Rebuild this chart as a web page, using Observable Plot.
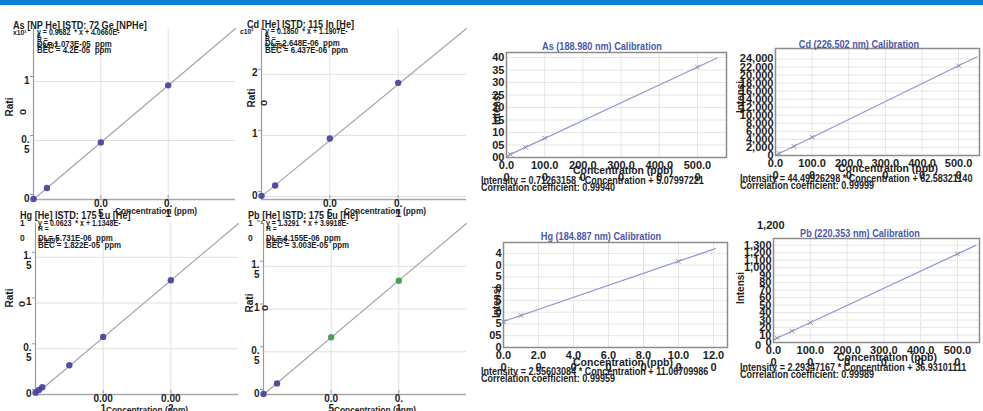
<!DOCTYPE html>
<html><head><meta charset="utf-8">
<script src="https://cdn.jsdelivr.net/npm/d3@7"></script>
<script src="https://cdn.jsdelivr.net/npm/@observablehq/plot@0.6"></script>
<style>
html,body{margin:0;padding:0;background:#fff;}
#root{position:relative;width:983px;height:411px;overflow:hidden;background:#fff;font-family:"Liberation Sans Narrow","Liberation Sans",sans-serif;font-weight:bold;color:#1e1e1e;}
.t{position:absolute;white-space:pre;line-height:1;}
#bar{position:absolute;left:0;top:0;width:983px;height:5px;background:#0a80d2;}
</style></head><body><div id="root"><div id="bar"></div></div>
<script>
// ---------- ICP-MS data (ratio vs concentration, ppm) ----------
const asMsConc = [0, 0.01, 0.05, 0.1];
const asMsRatio = [0.004, 0.097, 0.484, 0.968];
const asMsFitX = [0, 0.15], asMsFitY = [0, 1.45];
const asMsXTicks = [0.05, 0.1], asMsXLabels = ["0.0\n5", "0.\n1"];
const asMsYTicks = [0, 0.5, 1], asMsYLabels = ["0", "0.\n5", "1"];

const cdMsConc = [0, 0.01, 0.05, 0.1];
const cdMsRatio = [0.01, 0.18, 0.95, 1.86];
const cdMsFitX = [0, 0.15], cdMsFitY = [0, 2.75];
const cdMsXTicks = [0.05, 0.1], cdMsXLabels = ["0.0\n5", "0.\n1"];
const cdMsYTicks = [0, 1, 2], cdMsYLabels = ["0", "1", "2"];

const hgMsConc = [0, 0.00005, 0.0001, 0.0005, 0.001, 0.002];
const hgMsRatio = [0.02, 0.05, 0.08, 0.32, 0.63, 1.25];
const hgMsFitX = [0, 0.003], hgMsFitY = [0, 1.87];
const hgMsXTicks = [0.001, 0.002], hgMsXLabels = ["0.00\n1", "0.00\n2"];
const hgMsYTicks = [0, 0.5, 1, 1.5], hgMsYLabels = ["0", "0.\n5", "1", "1.\n5"];

const pbMsConc = [0, 0.01, 0.05, 0.1];
const pbMsRatio = [0.005, 0.13, 0.67, 1.33];
const pbMsColors = ["#3f3f9c", "#3f3f9c", "#3a9a48", "#3a9a48"];
const pbMsFitX = [0, 0.15], pbMsFitY = [0, 2.0];
const pbMsXTicks = [0.05, 0.1], pbMsXLabels = ["0.0\n5", "0.\n1"];
const pbMsYTicks = [0, 0.5, 1, 1.5], pbMsYLabels = ["0", "0.\n5", "1", "1.\n5"];

// ---------- ICP-OES data (intensity vs concentration, ppb) ----------
const asOesConc = [10, 50, 100, 500];
const asOesInt = [13, 41, 77, 362];
const asOesFitX = [0, 550], asOesFitY = [5.1, 397];
const asOesXTicks = [0, 100, 200, 300, 400, 500];
const asOesYTicks = [0, 50, 100, 150, 200, 250, 300, 350, 400];
const asOesYLabels = ["00", "05", "10", "15", "20", "25", "30", "35", "40"];

const cdOesConc = [10, 50, 100, 500];
const cdOesInt = [500, 2300, 4550, 22300];
const cdOesFitX = [0, 550], cdOesFitY = [63, 24540];
const cdOesXTicks = [0, 100, 200, 300, 400, 500];
const cdOesYTicks = [0, 2000, 4000, 6000, 8000, 10000, 12000, 14000, 16000, 18000, 20000, 22000, 24000];
const cdOesYLabels = ["0", "2,000", "4,000", "6,000", "8,000", "10,000", "12,000", "14,000", "16,000", "18,000", "20,000", "22,000", "24,000"];

const hgOesConc = [0, 1, 10];
const hgOesInt = [11, 13.6, 36.6];
const hgOesFitX = [0, 12.1], hgOesFitY = [11.07, 42];
const hgOesXTicks = [0, 2, 4, 6, 8, 10, 12];
const hgOesYTicks = [0, 5, 10, 15, 20, 25, 30, 35, 40];
const hgOesYLabels = ["0", "05", "5", "0", "5", "0", "5", "0", "4"];

const pbOesConc = [10, 50, 100, 500];
const pbOesInt = [60, 152, 266, 1184];
const pbOesFitX = [0, 550], pbOesFitY = [37, 1298];
const pbOesXTicks = [0, 100, 200, 300, 400, 500];
const pbOesYTicks = [0, 100, 200, 300, 400, 500, 600, 700, 800, 900, 1000, 1100, 1200, 1300];
const pbOesYLabels = ["0", "10", "20", "30", "40", "50", "60", "70", "80", "90", "1,000", "1,100", "1,200", "1,300"];

// ---------- helpers ----------
const root = document.getElementById("root");
const zip = (xs, ys, extra) => xs.map((x, i) => ({x, y: ys[i], ...(extra ? {c: extra[i]} : {})}));
const fmt = (ticks, labels) => d => labels[ticks.indexOf(d)] ?? "";

function panel({L, R, T, B, xDomain, yDomain, marks, fontSize}) {
  const m = {l: 45, r: 12, t: 10, b: 30};
  const p = Plot.plot({
    width: (R - L) + m.l + m.r,
    height: (B - T) + m.t + m.b,
    marginLeft: m.l, marginRight: m.r, marginTop: m.t, marginBottom: m.b,
    x: {domain: xDomain},
    y: {domain: yDomain},
    style: `font-family:'Liberation Sans Narrow','Liberation Sans',sans-serif;font-size:${fontSize}px;font-weight:bold;background:transparent;overflow:visible;color:#1e1e1e;`,
    marks
  });
  p.style.position = "absolute";
  p.style.left = (L - m.l) + "px";
  p.style.top = (T - m.t) + "px";
  root.appendChild(p);
}

function msPanel(c) {
  panel({
    L: c.L, R: c.R, T: c.T, B: c.B, xDomain: c.xDomain, yDomain: c.yDomain, fontSize: 10,
    marks: [
      Plot.gridX(c.xTicks, {stroke: "#e0e0e0", strokeOpacity: 1}),
      Plot.gridY(c.yTicks, {stroke: "#e0e0e0", strokeOpacity: 1}),
      Plot.ruleX([c.xDomain[0]], {stroke: "#9a9a9a", strokeWidth: 1.2}),
      Plot.ruleY([c.yDomain[0]], {stroke: "#a8a8a8", strokeWidth: 1.6}),
      Plot.axisX(c.xTicks, {tickFormat: fmt(c.xTicks, c.xLabels), tickSize: 3, tickPadding: 1, label: null, stroke: "#999", lineHeight: 1, dy: -4}),
      Plot.axisY(c.yTicks, {tickFormat: fmt(c.yTicks, c.yLabels), tickSize: 3, tickPadding: 1, label: null, stroke: "#999", lineAnchor: "top", dy: -5, lineHeight: 1}),
      Plot.line(zip(c.fitX, c.fitY), {x: "x", y: "y", stroke: "#a3a3a3", strokeWidth: 1.1}),
      Plot.dot(zip(c.conc, c.ratio, c.colors), {x: "x", y: "y", r: 3.2, fill: c.colors ? "c" : "#3f3f9c", fillOpacity: 0.9})
    ]
  });
}

function oesPanel(c) {
  panel({
    L: c.L, R: c.R, T: c.T, B: c.B, xDomain: c.xDomain, yDomain: c.yDomain, fontSize: 11,
    marks: [
      Plot.gridX(c.xTicks, {stroke: "#e6e6e6", strokeOpacity: 1}),
      Plot.gridY(c.yTicks, {stroke: "#e6e6e6", strokeOpacity: 1}),
      Plot.axisX(c.xTicks, {tickFormat: d => d.toFixed(1) + "\n0", tickSize: 0, tickPadding: 3, label: null, lineHeight: 1.1}),
      Plot.axisY(c.yTicks, {tickFormat: fmt(c.yTicks, c.yLabels), tickSize: 0, tickPadding: 2, label: null}),
      Plot.line(zip(c.fitX, c.fitY), {x: "x", y: "y", stroke: "#8f9bd8", strokeWidth: 1.3}),
      Plot.dot(zip(c.conc, c.int), {x: "x", y: "y", symbol: "times", r: 2.2, stroke: "#8b8b9b", strokeWidth: 1}),
      Plot.frame({stroke: "#8c8c8c", strokeWidth: 1.5})
    ]
  });
}

function txt(s, x, y, {size = 9, anchor = "start", rotate = false, color = "#1e1e1e", sx = 1} = {}) {
  const d = document.createElement("div");
  d.className = "t";
  d.textContent = s;
  d.style.fontSize = size + "px";
  d.style.color = color;
  d.style.left = x + "px";
  d.style.top = y + "px";
  if (rotate) {
    d.style.transform = "translate(-50%,-50%) rotate(-90deg)";
  } else if (anchor === "middle") {
    d.style.transformOrigin = "50% 50%";
    d.style.transform = `translate(-50%,-50%) scaleX(${sx})`;
  } else {
    d.style.transformOrigin = "0 50%";
    d.style.transform = `translate(0,-50%) scaleX(${sx})`;
  }
  root.appendChild(d);
}

// ---------- ICP-MS panels ----------
msPanel({L: 33, R: 235, T: 28, B: 199, xDomain: [0, 0.15], yDomain: [0, 1.45],
  xTicks: asMsXTicks, xLabels: asMsXLabels, yTicks: asMsYTicks, yLabels: asMsYLabels,
  conc: asMsConc, ratio: asMsRatio, fitX: asMsFitX, fitY: asMsFitY});
msPanel({L: 261, R: 466, T: 28, B: 199, xDomain: [0, 0.15], yDomain: [-0.05, 2.75],
  xTicks: cdMsXTicks, xLabels: cdMsXLabels, yTicks: cdMsYTicks, yLabels: cdMsYLabels,
  conc: cdMsConc, ratio: cdMsRatio, fitX: cdMsFitX, fitY: cdMsFitY});
msPanel({L: 35, R: 238, T: 223, B: 394, xDomain: [0, 0.003], yDomain: [0, 1.87],
  xTicks: hgMsXTicks, xLabels: hgMsXLabels, yTicks: hgMsYTicks, yLabels: hgMsYLabels,
  conc: hgMsConc, ratio: hgMsRatio, fitX: hgMsFitX, fitY: hgMsFitY});
msPanel({L: 263, R: 466, T: 223, B: 394, xDomain: [0, 0.15], yDomain: [0, 2.0],
  xTicks: pbMsXTicks, xLabels: pbMsXLabels, yTicks: pbMsYTicks, yLabels: pbMsYLabels,
  conc: pbMsConc, ratio: pbMsRatio, colors: pbMsColors, fitX: pbMsFitX, fitY: pbMsFitY});

// ---------- ICP-OES panels ----------
oesPanel({L: 506, R: 726, T: 52, B: 157, xDomain: [0, 576], yDomain: [0, 420],
  xTicks: asOesXTicks, yTicks: asOesYTicks, yLabels: asOesYLabels,
  conc: asOesConc, int: asOesInt, fitX: asOesFitX, fitY: asOesFitY});
oesPanel({L: 775, R: 979, T: 48, B: 155, xDomain: [0, 557], yDomain: [0, 26600],
  xTicks: cdOesXTicks, yTicks: cdOesYTicks, yLabels: cdOesYLabels,
  conc: cdOesConc, int: cdOesInt, fitX: cdOesFitX, fitY: cdOesFitY});
oesPanel({L: 503, R: 727, T: 242, B: 347, xDomain: [0, 12.8], yDomain: [0, 44.6],
  xTicks: hgOesXTicks, yTicks: hgOesYTicks, yLabels: hgOesYLabels,
  conc: hgOesConc, int: hgOesInt, fitX: hgOesFitX, fitY: hgOesFitY});
oesPanel({L: 773, R: 979, T: 238, B: 342, xDomain: [0, 560], yDomain: [0, 1390],
  xTicks: pbOesXTicks, yTicks: pbOesYTicks, yLabels: pbOesYLabels,
  conc: pbOesConc, int: pbOesInt, fitX: pbOesFitX, fitY: pbOesFitY});

// ---------- text: ICP-MS ----------
const T1 = {size: 11, sx: 0.83}, EQ = {size: 9.5, sx: 0.74}, DL = {size: 9.5, sx: 0.83}, SM = {size: 8, sx: 0.85};
const CX = {size: 9.5, anchor: "middle", sx: 0.88};
txt("As [NP He] ISTD: 72 Ge [NPHe]", 13, 25, T1);
txt("x10\u00B9", 13, 33, {size: 8, sx: 0.85});
txt("y = 0.9682  * x + 4.0660E-", 37, 32, EQ);
txt("6", 37, 36, SM);
txt("R =", 37, 39.5, SM);
txt("DL= 1.073E-05  ppm", 37, 43.5, DL);
txt("0.9997", 37, 46, SM);
txt("BEC = 4.2E-05  ppm", 37, 50, DL);
txt("Rati", 10, 107, {size: 10, rotate: true});
txt("o", 23, 112, {size: 10, rotate: true});
txt("Concentration (ppm)", 156, 211, CX);

txt("Cd [He] ISTD: 115 In [He]", 247, 24, T1);
txt("c10\u00B2", 240, 32, {size: 8, sx: 0.85});
txt("y = 0.1850  * x + 1.1907E-", 265, 31, EQ);
txt("6", 265, 35, SM);
txt("R =", 265, 38.5, SM);
txt("DL= 2.648E-06  ppm", 265, 43, DL);
txt("0.9996", 265, 45.5, SM);
txt("BEC = 6.437E-06  ppm", 265, 50, DL);
txt("Rati", 252, 98, {size: 10, rotate: true});
txt("o", 264, 103, {size: 10, rotate: true});
txt("Concentration (ppm)", 385, 211, CX);

txt("Hg [He] ISTD: 175 Lu [He]", 20, 215, T1);
txt("1", 20, 223, {size: 8.5});
txt("0", 20, 238, {size: 8.5});
txt("y = 0.0623  * x + 1.1348E-", 38, 223, EQ);
txt("R =", 38, 229, SM);
txt("DL= 5.731E-06  ppm", 38, 238, DL);
txt("0.9997", 38, 241, SM);
txt("BEC = 1.822E-05  ppm", 38, 245, DL);
txt("Rati", 10, 298, {size: 10, rotate: true});
txt("o", 22, 304, {size: 10, rotate: true});
txt("Concentration (ppm)", 147, 410, CX);

txt("Pb [He] ISTD: 175 Lu [He]", 248, 215, T1);
txt("1  \u207B\u00B9", 248, 223, {size: 8.5});
txt("0", 248, 238, {size: 8.5});
txt("y = 1.3291  * x + 3.9918E-", 266, 223, EQ);
txt("R =", 266, 229, SM);
txt("DL= 4.155E-06  ppm", 266, 238, DL);
txt("0.9999", 266, 241, SM);
txt("BEC = 3.003E-05  ppm", 266, 245, DL);
txt("Rati", 250, 303, {size: 10, rotate: true});
txt("o", 265, 308, {size: 10, rotate: true});
txt("Concentration (ppm)", 375, 410, CX);

// ---------- text: ICP-OES ----------
const blue = "#4a58ad";
const OT = {size: 10.5, anchor: "middle", color: blue, sx: 0.87};
const OE = {size: 10.5, sx: 0.86};
const OC = {size: 11, anchor: "middle", sx: 0.95};
txt("As (188.980 nm) Calibration", 602, 46, OT);
txt("Intensi", 497, 109, {size: 10, rotate: true});
txt("Concentration (ppb)", 623, 170, OC);
txt("Intensity = 0.71263158 * Concentration + 5.07997221", 481, 180, OE);
txt("Correlation coefficient: 0.99940", 481, 187, OE);

txt("Cd (226.502 nm) Calibration", 859, 44, OT);
txt("Intensi", 741, 97, {size: 10, rotate: true});
txt("Concentration (ppb)", 888, 168, OC);
txt("Intensity = 44.49926298 * Concentration + 62.58321140", 740, 178, OE);
txt("Correlation coefficient: 0.99999", 740, 185, OE);

txt("Hg (184.887 nm) Calibration", 601, 236, OT);
txt("Intensi", 497, 302, {size: 10, rotate: true});
txt("Concentration (ppb)", 623, 362, OC);
txt("Intensity = 2.55603084 * Concentration + 11.06709986", 481, 371, OE);
txt("Correlation coefficient: 0.99959", 481, 378, OE);

txt("1,200", 757, 225, {size: 11});
txt("Pb (220.353 nm) Calibration", 860, 233, OT);
txt("Intensi", 741, 288, {size: 10, rotate: true});
txt("0", 755, 345, {size: 11});
txt("Concentration (ppb)", 887, 357, OC);
txt("Intensity = 2.29347167 * Concentration + 36.93101111", 740, 367, OE);
txt("Correlation coefficient: 0.99989", 740, 374, OE);
</script></body></html>
